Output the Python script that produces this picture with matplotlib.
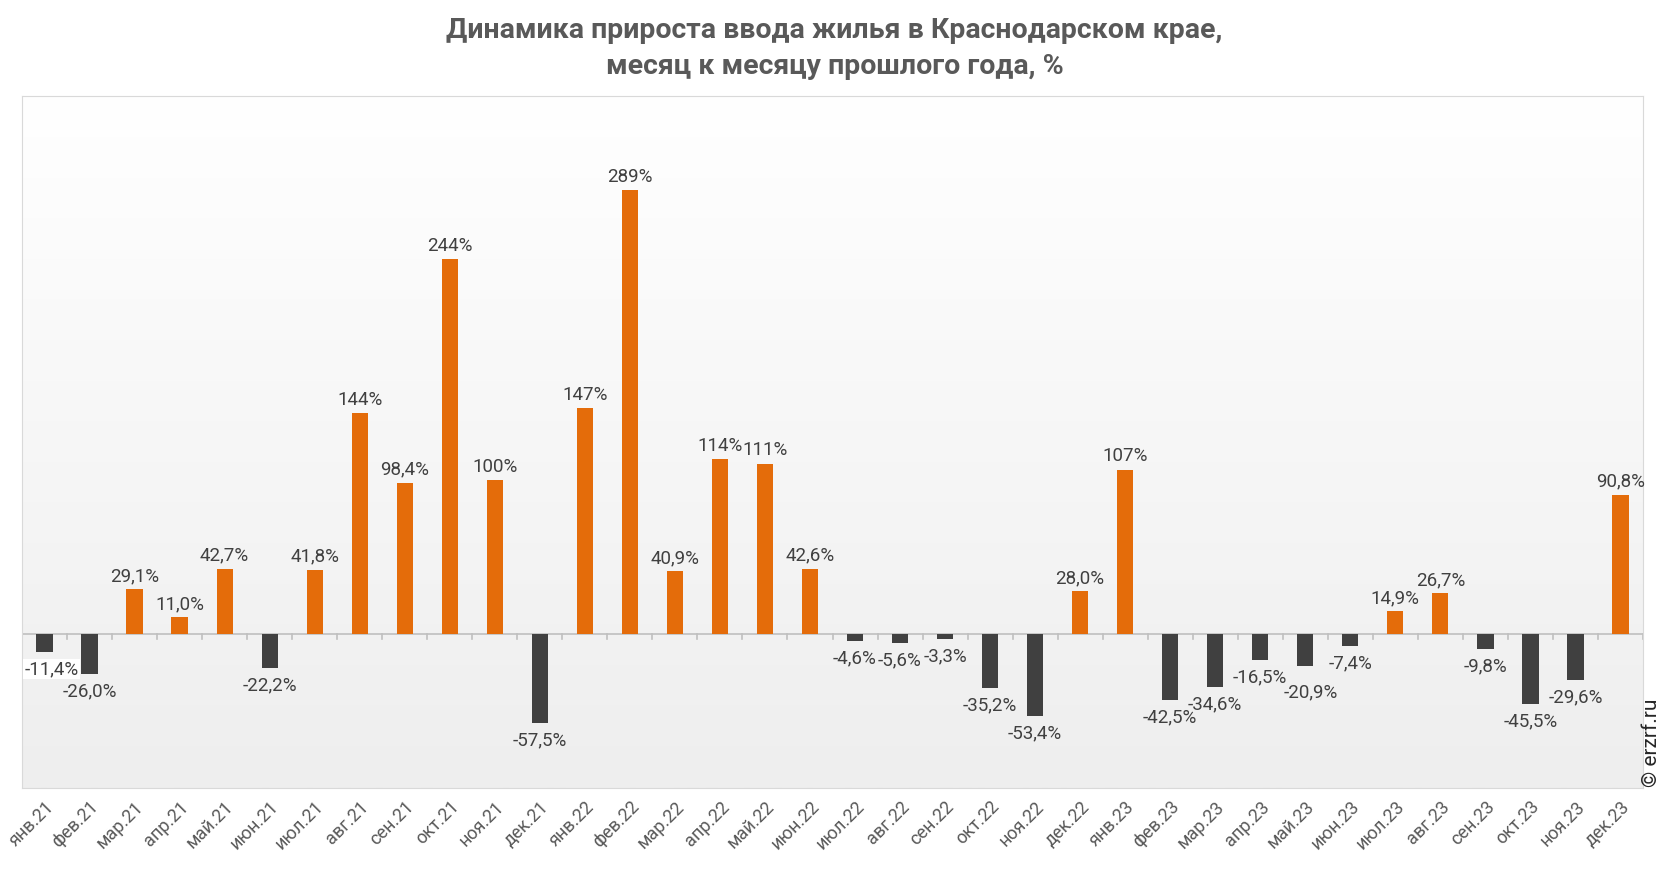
import matplotlib.pyplot as plt
import numpy as np
from matplotlib.colors import LinearSegmentedColormap

plt.rcParams['font.family'] = ['Roboto', 'DejaVu Sans']

months = ["янв.21", "фев.21", "мар.21", "апр.21", "май.21", "июн.21",
          "июл.21", "авг.21", "сен.21", "окт.21", "ноя.21", "дек.21",
          "янв.22", "фев.22", "мар.22", "апр.22", "май.22", "июн.22",
          "июл.22", "авг.22", "сен.22", "окт.22", "ноя.22", "дек.22",
          "янв.23", "фев.23", "мар.23", "апр.23", "май.23", "июн.23",
          "июл.23", "авг.23", "сен.23", "окт.23", "ноя.23", "дек.23"]
growth = [-11.4, -26.0, 29.1, 11.0, 42.7, -22.2,
          41.8, 144, 98.4, 244, 100, -57.5,
          147, 289, 40.9, 114, 111, 42.6,
          -4.6, -5.6, -3.3, -35.2, -53.4, 28.0,
          107, -42.5, -34.6, -16.5, -20.9, -7.4,
          14.9, 26.7, -9.8, -45.5, -29.6, 90.8]

orange = "#E46C0A"
dark = "#404040"
text_col = "#404040"

# labels moved by hand in the original chart (points)
nudge = {"янв.21": (5, 0), "май.23": (4, -6)}

fig = plt.figure(figsize=(16.66, 8.72), dpi=100)
ax = fig.add_axes([0.0132, 0.0963, 0.973, 0.7937])

x = np.arange(len(months))
vals = np.array(growth)
colors = [orange if v >= 0 else dark for v in vals]

# gradient background
grad = LinearSegmentedColormap.from_list("bg", ["#ffffff", "#eeeeee"])
ax.imshow(np.linspace(0, 1, 256).reshape(-1, 1), cmap=grad, aspect="auto",
          extent=[0, 1, 0, 1], transform=ax.transAxes, zorder=0)

ax.bar(x, vals, width=0.36, color=colors, zorder=3)
ax.axhline(0, color="#bfbfbf", lw=1.2, zorder=2)
for b in np.arange(len(months) + 1) - 0.5:
    ax.plot([b, b], [0, -3.3], color="#bfbfbf", lw=1.2, zorder=2)

for m, xi, v in zip(months, x, vals):
    if abs(v) >= 100:
        s = f"{v:.0f}%"
    else:
        s = f"{v:.1f}%".replace(".", ",")
    dx, dy = nudge.get(m, (0, 0))
    box = None
    if m == "янв.21":
        box = dict(facecolor="white", edgecolor="none", pad=1)
    if v >= 0:
        ax.annotate(s, (xi, v), xytext=(dx, 3 + dy), textcoords="offset points",
                    ha="center", va="bottom", fontsize=13.5, color=text_col,
                    zorder=4, bbox=box)
    else:
        ax.annotate(s, (xi, v), xytext=(dx, -6 + dy), textcoords="offset points",
                    ha="center", va="top", fontsize=13.5, color=text_col,
                    zorder=4, bbox=box)

ax.set_xlim(-0.5, len(months) - 0.5)
ax.set_ylim(-100, 350)
ax.set_yticks([])
ax.set_xticks(x)
ax.set_xticklabels(months, rotation=45, ha="right", rotation_mode="anchor",
                   fontsize=13, color="#595959")
ax.tick_params(axis="x", length=0, pad=7)
for sp in ax.spines.values():
    sp.set_color("#d9d9d9")

fig.text(0.501, 0.981, "Динамика прироста ввода жилья в Краснодарском крае,\nмесяц к месяцу прошлого года, %",
         ha="center", va="top", fontsize=20.5, fontweight="bold", color="#595959",
         linespacing=1.45)
fig.text(0.991, 0.097, "© erzrf.ru", rotation=90, ha="center", va="bottom",
         fontsize=15, color="#262626")

plt.savefig("out.png", dpi=100)
